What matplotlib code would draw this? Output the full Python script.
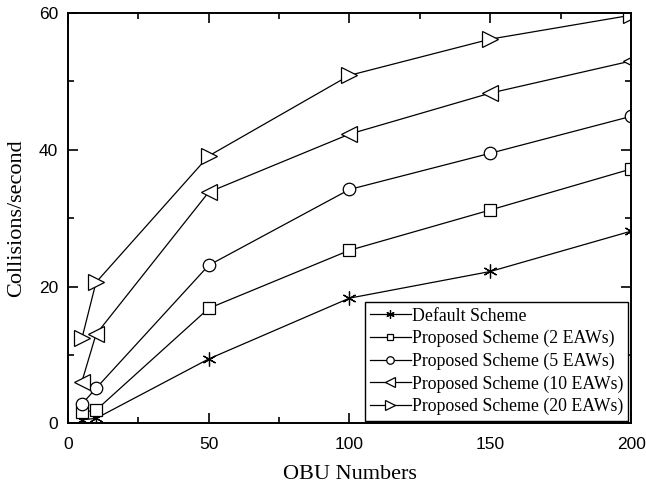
import matplotlib
matplotlib.use("Agg")
import matplotlib.pyplot as plt
from matplotlib.ticker import MultipleLocator

x = [5, 10, 50, 100, 150, 200]
default = [0.5, 0.7, 9.4, 18.3, 22.2, 28.1]
eaw2 = [1.6, 1.9, 16.8, 25.3, 31.2, 37.2]
eaw5 = [2.8, 5.1, 23.1, 34.2, 39.5, 44.9]
eaw10 = [6.1, 13.0, 33.8, 42.3, 48.3, 53.0]
eaw20 = [12.4, 20.6, 39.1, 50.9, 56.2, 59.7]
labels = ["Default Scheme", "Proposed Scheme (2 EAWs)", "Proposed Scheme (5 EAWs)",
          "Proposed Scheme (10 EAWs)", "Proposed Scheme (20 EAWs)"]

fig = plt.figure(figsize=(6.46, 4.87), dpi=100)
ax = fig.add_axes([0.105, 0.131, 0.872, 0.842])

series = [default, eaw2, eaw5, eaw10, eaw20]
markers = [(6, 2, 0), "s", "o", "<", ">"]
sizes = [10, 8, 9, 11, 11]
for ys, m, ms, lab in zip(series, markers, sizes, labels):
    ax.plot(x, ys, color="black", lw=0.9, marker=m, markersize=ms,
            markerfacecolor="white", markeredgecolor="black", markeredgewidth=0.9,
            label=lab)

ax.set_xlim(0, 200)
ax.set_ylim(0, 60)
ax.xaxis.set_major_locator(MultipleLocator(50))
ax.xaxis.set_minor_locator(MultipleLocator(25))
ax.yaxis.set_major_locator(MultipleLocator(20))
ax.yaxis.set_minor_locator(MultipleLocator(10))
ax.tick_params(which="both", direction="in", top=True, right=True, width=1.2)
ax.tick_params(which="major", length=7, labelsize=12.5)
ax.tick_params(axis="x", which="major", pad=10)
ax.tick_params(axis="y", which="major", pad=7)
ax.tick_params(which="minor", length=4)
for lbl in ax.get_xticklabels() + ax.get_yticklabels():
    lbl.set_family("Liberation Sans")
for s in ax.spines.values():
    s.set_linewidth(1.4)

ax.set_xlabel("OBU Numbers", family="Liberation Serif", fontsize=16, labelpad=9)
ax.set_ylabel("Collisions/second", family="Liberation Serif", fontsize=16, labelpad=9)

leg = ax.legend(loc="lower right", prop={"family": "Liberation Serif", "size": 12.8},
                frameon=True, fancybox=False, edgecolor="black", framealpha=1,
                borderaxespad=0.15, handlelength=2.3, handletextpad=0.05,
                labelspacing=0.3, borderpad=0.3, markerscale=0.6)
leg.get_frame().set_linewidth(1.0)

fig.savefig("out.png", dpi=100)
